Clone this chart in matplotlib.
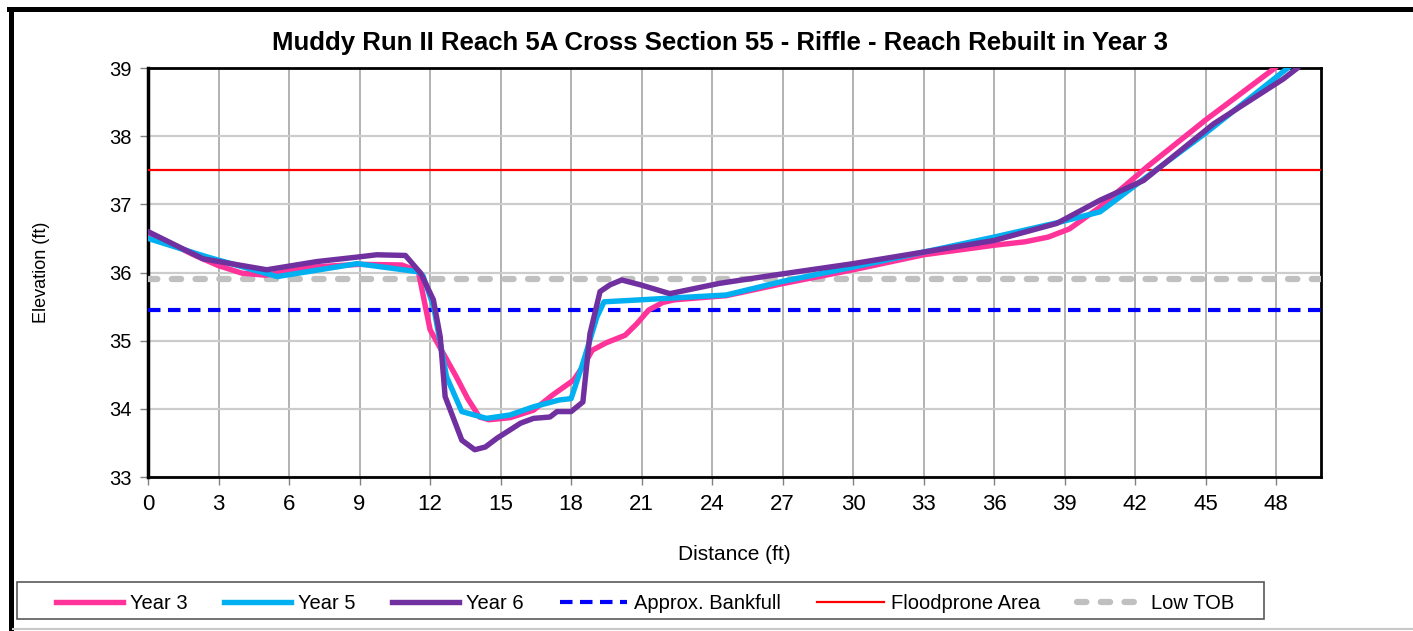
import matplotlib.pyplot as plt
from matplotlib.lines import Line2D
from matplotlib.patches import Rectangle

# =========================
# DATA
# =========================

year3_x = [0, 1, 2, 3, 4, 5, 6, 7, 9, 10.8, 11.5, 11.8, 12.0, 12.5, 13.1, 13.6,
           14.1, 14.5, 15.4, 16.4, 17.2, 18.1, 18.5, 18.9, 19.5, 20.3, 20.8,
           21.3, 21.9, 22.4, 24.6, 26.9, 30, 33, 36, 37.3, 38.3, 39.2, 40.5,
           42.5, 45.0, 47.9, 48.6]
year3_y = [36.55, 36.42, 36.25, 36.1, 35.99, 35.96, 36.02, 36.08, 36.12, 36.11,
           36.02, 35.5, 35.16, 34.85, 34.48, 34.15, 33.88, 33.84, 33.87, 33.98,
           34.2, 34.42, 34.62, 34.86, 34.97, 35.08, 35.25, 35.45, 35.56, 35.6,
           35.66, 35.83, 36.04, 36.26, 36.4, 36.45, 36.52, 36.64, 36.96, 37.55,
           38.24, 38.99, 39.2]

year5_x = [0, 2.5, 5.5, 8.9, 11.5, 11.7, 12.15, 12.7, 13.35, 14.4, 15.4, 16.4,
           17.5, 18.0, 18.5, 19.1, 19.4, 21, 22.5, 24.6, 27, 30, 33, 36, 38.8,
           40.5, 42.2, 45.05, 48.45, 49.0]
year5_y = [36.5, 36.23, 35.94, 36.13, 36.01, 35.95, 35.5, 34.47, 33.96, 33.86,
           33.91, 34.03, 34.13, 34.15, 34.67, 35.35, 35.57, 35.6, 35.63, 35.67,
           35.87, 36.08, 36.3, 36.52, 36.74, 36.89, 37.33, 38.06, 38.99, 39.15]

year6_x = [0, 2.35, 5.05, 7.18, 9.0, 9.73, 10.95, 11.6, 12.14, 12.43, 12.64,
           13.35, 13.9, 14.35, 14.85, 15.4, 15.85, 16.4, 17.1, 17.4, 18.0, 18.5,
           18.8, 19.23, 19.66, 20.15, 20.94, 22.2, 24.3, 26.6, 30, 33, 36,
           38.66, 40.5, 42.35, 45.33, 48.3, 48.9, 49.3]
year6_y = [36.6, 36.2, 36.04, 36.16, 36.23, 36.26, 36.25, 35.99, 35.6, 35.06,
           34.18, 33.54, 33.4, 33.44, 33.57, 33.69, 33.79, 33.86, 33.88, 33.96,
           33.96, 34.1, 35.1, 35.72, 35.82, 35.89, 35.82, 35.69, 35.84, 35.96,
           36.13, 36.3, 36.47, 36.72, 37.06, 37.35, 38.18, 38.84, 39.0, 39.2]

bankfull_elev = 35.45
floodprone_elev = 37.5
low_tob_elev = 35.9

x_ticks = list(range(0, 49, 3))
y_ticks = list(range(33, 40))

# =========================
# FIGURE
# =========================

plt.rcParams['font.family'] = ['Liberation Sans', 'DejaVu Sans']

fig = plt.figure(figsize=(14.13, 6.31), dpi=100)

ax = fig.add_axes([148 / 1413, 154 / 631, 1173 / 1413, 409 / 631])

ax.plot(year3_x, year3_y, color='#FF3399', lw=3.9, label='Year 3',
        solid_joinstyle='round', zorder=4)
ax.plot(year5_x, year5_y, color='#00B0F0', lw=3.9, label='Year 5',
        solid_joinstyle='round', zorder=5)
ax.plot(year6_x, year6_y, color='#7030A0', lw=3.9, label='Year 6',
        solid_joinstyle='round', zorder=6)

ax.axhline(bankfull_elev, color='#0000FF', lw=3, dashes=(3, 1.8),
           label='Approx. Bankfull', zorder=3)
ax.axhline(floodprone_elev, color='#FF0000', lw=1.6,
           label='Floodprone Area', zorder=3)
tob = ax.axhline(low_tob_elev, color='#C0C0C0', lw=4.5, dashes=(1.5, 2.3),
                 label='Low TOB', zorder=3)
tob.set_dash_capstyle('round')

# =========================
# AXES
# =========================

ax.set_xlim(0, 49.9)
ax.set_ylim(33, 39)
ax.set_xticks(x_ticks)
ax.set_yticks(y_ticks)

ax.grid(axis='x', color='#A6A6A6', lw=1.2)
ax.grid(axis='y', color='#CCCCCC', lw=1.6)
ax.set_axisbelow(True)

for side in ['top', 'right', 'bottom']:
    ax.spines[side].set_linewidth(2)
ax.spines['left'].set_linewidth(2.5)

ax.tick_params(axis='x', direction='out', length=6, width=1, color='#808080',
               labelsize=16, pad=6)
ax.tick_params(axis='y', direction='out', length=6, width=1, color='#808080',
               labelsize=14.5, pad=6)

ax.set_xlabel('Distance (ft)', fontsize=15, labelpad=22)
ax.set_ylabel('Elevation (ft)', fontsize=13, labelpad=42)

fig.text(720 / 1413, 1 - 43 / 631,
         'Muddy Run II Reach 5A Cross Section 55 - Riffle - Reach Rebuilt in Year 3',
         ha='center', va='center', fontsize=18.5, fontweight='bold')

# =========================
# LEGEND
# =========================

leg = ax.legend(loc='lower left', ncol=6, mode='expand',
                bbox_to_anchor=(50 / 1413, 12 / 631, 1190 / 1413, 37 / 631),
                bbox_transform=fig.transFigure, fontsize=14.5,
                frameon=False, handlelength=3.3, handletextpad=0.35,
                borderaxespad=0, borderpad=0.3)

fig.add_artist(Rectangle((17 / 1413, 12 / 631), 1247 / 1413, 37 / 631,
                         fill=False, edgecolor='#595959', lw=1.2,
                         transform=fig.transFigure))

# =========================
# OUTER FRAME
# =========================

fig.add_artist(Line2D([10.5 / 1413, 10.5 / 1413], [0, 1 - 8.5 / 631],
                      color='black', lw=3.6, transform=fig.transFigure))
fig.add_artist(Line2D([9 / 1413, 1], [1 - 8.5 / 631, 1 - 8.5 / 631],
                      color='black', lw=3.6, transform=fig.transFigure))
fig.add_artist(Line2D([13 / 1413, 1], [2 / 631, 2 / 631],
                      color='#C8C8C8', lw=1.5, transform=fig.transFigure))

plt.savefig('out.png', dpi=100)
